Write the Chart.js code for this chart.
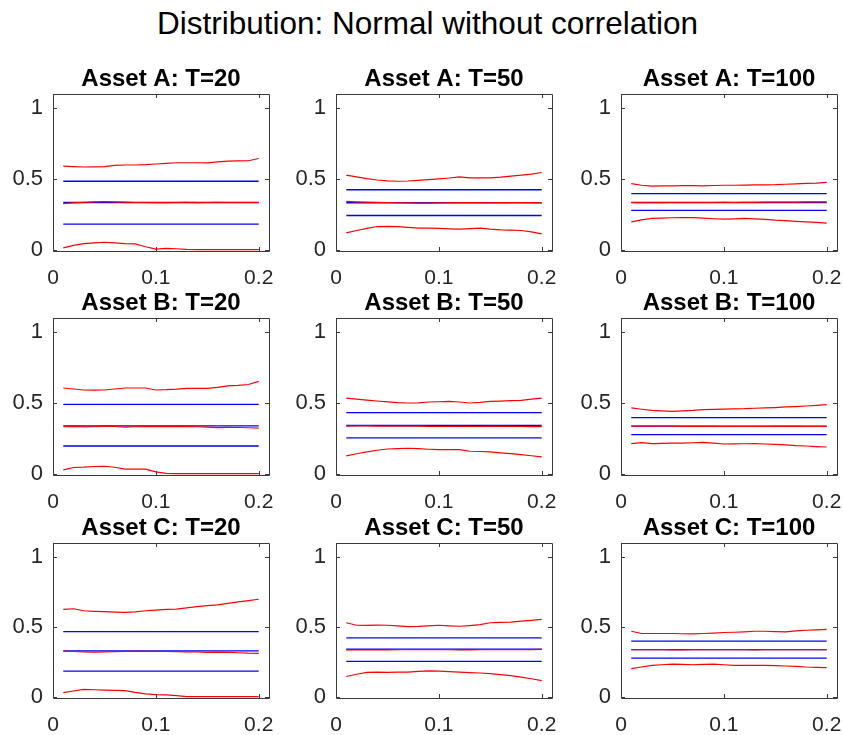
<!DOCTYPE html>
<html>
<head>
<meta charset="utf-8">
<script src="https://cdn.jsdelivr.net/npm/chart.js@4.4.0/dist/chart.umd.min.js"></script>
<style>
  body { margin: 0; background: #fff; }
  #wrap { position: relative; width: 843px; height: 735px; overflow: hidden; font-family: "Liberation Sans", Arial, sans-serif; }
  #mainTitle { position: absolute; left: 0; top: 8px; width: 855px; text-align: center; font-size: 31.5px; line-height: 31.5px; color: #000; }
  canvas { position: absolute; }
</style>
</head>
<body>
<div id="wrap">
  <div id="mainTitle">Distribution: Normal without correlation</div>
</div>
<script>
// x grid shared by every panel
const xVals = [0.01, 0.02, 0.03, 0.04, 0.05, 0.06, 0.07, 0.08, 0.09, 0.10,
               0.11, 0.12, 0.13, 0.14, 0.15, 0.16, 0.17, 0.18, 0.19, 0.20];
const xTicks = [0, 0.1, 0.2];
const yTicks = [0, 0.5, 1];

// red curves (upper band, middle, lower band)
const A20_up  = [0.590,0.587,0.584,0.585,0.587,0.596,0.598,0.598,0.600,0.605,0.610,0.614,0.614,0.614,0.613,0.620,0.626,0.627,0.628,0.644];
const A20_mid = [0.325,0.330,0.334,0.338,0.340,0.337,0.335,0.333,0.333,0.332,0.332,0.333,0.334,0.332,0.333,0.334,0.333,0.333,0.333,0.333];
const A20_low = [0.012,0.030,0.042,0.048,0.052,0.048,0.042,0.040,0.020,0.003,0.008,0.006,0.002,0,0,0,0,0,0,0];

const A50_up  = [0.526,0.514,0.502,0.492,0.486,0.483,0.485,0.490,0.495,0.500,0.506,0.514,0.507,0.508,0.507,0.512,0.520,0.526,0.534,0.545];
const A50_mid = [0.341,0.338,0.336,0.334,0.333,0.331,0.330,0.329,0.328,0.330,0.331,0.332,0.333,0.332,0.331,0.332,0.333,0.333,0.332,0.332];
const A50_low = [0.118,0.135,0.150,0.163,0.164,0.163,0.157,0.152,0.152,0.150,0.147,0.145,0.148,0.152,0.145,0.140,0.138,0.135,0.125,0.111];

const A100_up  = [0.466,0.455,0.449,0.450,0.451,0.452,0.452,0.451,0.453,0.455,0.455,0.456,0.457,0.458,0.459,0.462,0.465,0.468,0.470,0.475];
const A100_mid = [0.333,0.332,0.331,0.332,0.333,0.333,0.333,0.333,0.333,0.334,0.333,0.334,0.334,0.335,0.335,0.336,0.336,0.337,0.337,0.338];
const A100_low = [0.196,0.210,0.220,0.223,0.225,0.227,0.226,0.222,0.218,0.215,0.217,0.220,0.217,0.213,0.208,0.205,0.200,0.196,0.192,0.187];

const B20_up  = [0.605,0.598,0.591,0.590,0.591,0.598,0.605,0.605,0.605,0.591,0.593,0.597,0.603,0.603,0.603,0.610,0.620,0.624,0.630,0.652];
const B20_mid = [0.331,0.333,0.330,0.331,0.334,0.333,0.329,0.331,0.332,0.332,0.333,0.332,0.333,0.331,0.328,0.325,0.327,0.326,0.324,0.322];
const B20_low = [0.026,0.043,0.045,0.050,0.052,0.045,0.031,0.031,0.031,0.012,0.002,0,0,0,0,0,0,0,0,0];

const B50_up  = [0.534,0.527,0.520,0.513,0.507,0.502,0.499,0.500,0.506,0.508,0.511,0.506,0.499,0.504,0.511,0.513,0.516,0.518,0.526,0.534];
const B50_mid = [0.336,0.337,0.337,0.336,0.336,0.336,0.336,0.335,0.334,0.333,0.333,0.334,0.333,0.333,0.334,0.334,0.334,0.333,0.332,0.332];
const B50_low = [0.125,0.140,0.153,0.165,0.174,0.177,0.179,0.176,0.172,0.169,0.169,0.169,0.158,0.156,0.153,0.147,0.141,0.134,0.126,0.118];

const B100_up  = [0.464,0.455,0.447,0.443,0.440,0.444,0.447,0.452,0.454,0.456,0.458,0.459,0.462,0.464,0.467,0.471,0.474,0.478,0.482,0.487];
const B100_mid = [0.336,0.336,0.335,0.335,0.335,0.334,0.334,0.334,0.334,0.333,0.333,0.333,0.333,0.333,0.334,0.334,0.334,0.333,0.333,0.333];
const B100_low = [0.212,0.219,0.212,0.213,0.215,0.216,0.218,0.221,0.215,0.209,0.210,0.211,0.212,0.209,0.206,0.203,0.198,0.195,0.191,0.188];

const C20_up  = [0.624,0.629,0.615,0.611,0.608,0.605,0.603,0.607,0.615,0.620,0.624,0.626,0.635,0.645,0.651,0.657,0.667,0.678,0.688,0.697];
const C20_mid = [0.326,0.323,0.321,0.319,0.320,0.322,0.323,0.324,0.324,0.324,0.323,0.322,0.321,0.320,0.317,0.318,0.317,0.314,0.311,0.310];
const C20_low = [0.028,0.040,0.052,0.049,0.047,0.045,0.043,0.030,0.019,0.014,0.012,0.007,0,0,0,0,0,0,0,0];

const C50_up  = [0.529,0.511,0.510,0.512,0.511,0.507,0.501,0.503,0.507,0.511,0.507,0.504,0.509,0.515,0.529,0.532,0.534,0.540,0.546,0.553];
const C50_mid = [0.334,0.334,0.335,0.335,0.335,0.336,0.336,0.336,0.336,0.337,0.336,0.335,0.335,0.336,0.336,0.337,0.337,0.337,0.337,0.338];
const C50_low = [0.144,0.160,0.174,0.175,0.174,0.176,0.176,0.180,0.184,0.183,0.179,0.176,0.172,0.169,0.164,0.158,0.150,0.139,0.128,0.115];

const C100_up  = [0.468,0.452,0.452,0.452,0.452,0.450,0.449,0.452,0.455,0.459,0.461,0.464,0.468,0.468,0.466,0.464,0.470,0.475,0.478,0.482];
const C100_mid = [0.337,0.336,0.336,0.336,0.335,0.335,0.336,0.336,0.336,0.336,0.336,0.336,0.335,0.336,0.336,0.336,0.336,0.336,0.337,0.337];
const C100_low = [0.200,0.212,0.224,0.228,0.233,0.231,0.228,0.231,0.233,0.228,0.224,0.224,0.224,0.224,0.222,0.219,0.216,0.212,0.210,0.207];

// blue reference levels (upper, middle, lower)
const A20_blue  = [0.483, 0.333, 0.180];
const A50_blue  = [0.423, 0.331, 0.241];
const A100_blue = [0.396, 0.333, 0.277];
const B20_blue  = [0.490, 0.337, 0.195];
const B50_blue  = [0.431, 0.340, 0.252];
const B100_blue = [0.395, 0.336, 0.275];
const C20_blue  = [0.466, 0.328, 0.182];
const C50_blue  = [0.421, 0.339, 0.252];
const C100_blue = [0.398, 0.336, 0.275];

const panels = [
  { title: "Asset A: T=20",  red: [A20_up, A20_mid, A20_low],    blue: A20_blue },
  { title: "Asset A: T=50",  red: [A50_up, A50_mid, A50_low],    blue: A50_blue },
  { title: "Asset A: T=100", red: [A100_up, A100_mid, A100_low], blue: A100_blue },
  { title: "Asset B: T=20",  red: [B20_up, B20_mid, B20_low],    blue: B20_blue },
  { title: "Asset B: T=50",  red: [B50_up, B50_mid, B50_low],    blue: B50_blue },
  { title: "Asset B: T=100", red: [B100_up, B100_mid, B100_low], blue: B100_blue },
  { title: "Asset C: T=20",  red: [C20_up, C20_mid, C20_low],    blue: C20_blue },
  { title: "Asset C: T=50",  red: [C50_up, C50_mid, C50_low],    blue: C50_blue },
  { title: "Asset C: T=100", red: [C100_up, C100_mid, C100_low], blue: C100_blue },
];

// plot box positions on the page
const colLeft = [53, 336, 621];
const colRight = [269, 552, 837];
const rowTop = [94, 318, 543];
const rowBottom = [251, 475, 698];
const SIDE = 60, TOP = 40, BOTTOM = 40;
const FONT = '"Liberation Sans", Arial, sans-serif';
const AXIS_COLOR = "#262626";

// MATLAB-like box with inward ticks on all four sides
const boxPlugin = {
  id: "boxTicks",
  afterDraw(chart) {
    const { ctx, chartArea: a, scales } = chart;
    const L = 4;
    ctx.save();
    ctx.strokeStyle = "#3a3a3a";
    ctx.lineWidth = 1;
    ctx.beginPath();
    ctx.rect(Math.round(a.left) + 0.5, Math.round(a.top) + 0.5,
             Math.round(a.right - a.left), Math.round(a.bottom - a.top));
    xTicks.forEach(v => {
      const px = Math.round(scales.x.getPixelForValue(v)) + 0.5;
      ctx.moveTo(px, a.bottom); ctx.lineTo(px, a.bottom - L);
      ctx.moveTo(px, a.top); ctx.lineTo(px, a.top + L);
    });
    yTicks.forEach(v => {
      const py = Math.round(scales.y.getPixelForValue(v)) + 0.5;
      ctx.moveTo(a.left, py); ctx.lineTo(a.left + L, py);
      ctx.moveTo(a.right, py); ctx.lineTo(a.right - L, py);
    });
    ctx.stroke();
    ctx.restore();
  }
};

const wrap = document.getElementById("wrap");

panels.forEach((p, i) => {
  const r = Math.floor(i / 3), c = i % 3;
  const w = colRight[c] - colLeft[c] + 2 * SIDE;
  const h = rowBottom[r] - rowTop[r] + TOP + BOTTOM;
  const canvas = document.createElement("canvas");
  canvas.width = w;
  canvas.height = h;
  canvas.style.left = (colLeft[c] - SIDE) + "px";
  canvas.style.top = (rowTop[r] - TOP) + "px";
  canvas.style.width = w + "px";
  canvas.style.height = h + "px";
  wrap.appendChild(canvas);

  const datasets = [];
  p.red.forEach(arr => {
    datasets.push({
      data: xVals.map((x, k) => ({ x: x, y: arr[k] })),
      borderColor: "#ff0000", borderWidth: 1.2, pointRadius: 0, tension: 0
    });
  });
  p.blue.forEach(level => {
    datasets.push({
      data: xVals.map(x => ({ x: x, y: level })),
      borderColor: "#0000ff", borderWidth: 1.3, pointRadius: 0, tension: 0
    });
  });

  new Chart(canvas, {
    type: "line",
    data: { datasets },
    options: {
      responsive: false,
      animation: false,
      devicePixelRatio: 1,
      layout: { padding: 0 },
      plugins: {
        legend: { display: false },
        tooltip: { enabled: false },
        title: {
          display: true,
          text: p.title,
          color: "#000",
          font: { family: FONT, size: 24, weight: "bold", lineHeight: 1.2 },
          padding: { top: 11, bottom: 0.2 }
        }
      },
      scales: {
        x: {
          type: "linear",
          min: 0, max: 0.21,
          grid: { display: false, drawTicks: false },
          border: { display: false },
          ticks: { color: AXIS_COLOR, font: { family: FONT, size: 21 }, padding: 15, maxRotation: 0,
                   callback: v => String(v) },
          afterBuildTicks: s => { s.ticks = xTicks.map(v => ({ value: v })); },
          afterFit: s => { s.height = BOTTOM; }
        },
        y: {
          type: "linear",
          min: -0.01, max: 1.1,
          grid: { display: false, drawTicks: false },
          border: { display: false },
          ticks: { color: AXIS_COLOR, font: { family: FONT, size: 22 }, padding: 10,
                   callback: v => String(v) },
          afterBuildTicks: s => { s.ticks = yTicks.map(v => ({ value: v })); },
          afterFit: s => { s.width = SIDE; }
        },
        yRight: {
          type: "linear",
          position: "right",
          grid: { display: false },
          border: { display: false },
          ticks: { display: false },
          afterFit: s => { s.width = SIDE; }
        }
      }
    },
    plugins: [boxPlugin]
  });
});
</script>
</body>
</html>
